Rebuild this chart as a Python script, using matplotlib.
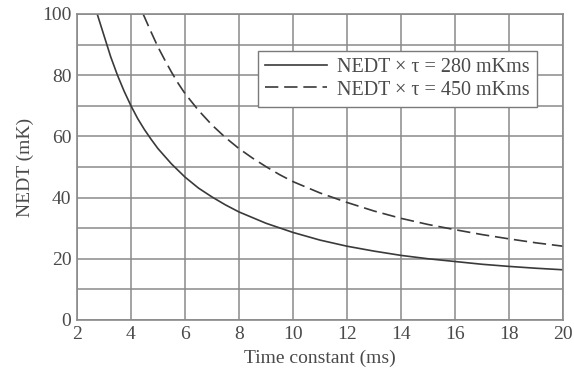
import matplotlib
matplotlib.use("Agg")
import matplotlib.pyplot as plt

tau_280 = [2.75, 3, 3.25, 3.5, 3.75, 4, 4.25, 4.5, 4.75, 5, 5.5, 6, 6.5, 7, 7.5, 8, 9, 10, 11, 12, 13, 14, 15, 16, 17, 18, 19, 20]
nedt_280 = [100, 93, 86, 80, 74.7, 70, 65.8, 62.2, 59, 56, 51, 46.7, 43.1, 40.2, 37.6, 35.3, 31.6, 28.6, 26.1, 24.1, 22.5, 21.1, 20, 19.1, 18.2, 17.5, 16.9, 16.4]

tau_450 = [4.45, 4.75, 5, 5.25, 5.5, 5.75, 6, 6.5, 7, 7.5, 8, 8.5, 9, 9.5, 10, 11, 12, 13, 14, 15, 16, 17, 18, 19, 20]
nedt_450 = [100, 94, 89.2, 85, 81, 77.3, 74, 68.5, 63.7, 59.6, 56, 52.9, 50.1, 47.5, 45.2, 41.5, 38.4, 35.6, 33.2, 31.2, 29.5, 27.9, 26.5, 25.2, 24.1]

labels = ["NEDT \u00d7 \u03c4 = 280 mKms", "NEDT \u00d7 \u03c4 = 450 mKms"]
xticks = [2, 4, 6, 8, 10, 12, 14, 16, 18, 20]
yticks = [0, 20, 40, 60, 80, 100]

plt.rcParams['font.family'] = ['Liberation Serif', 'DejaVu Serif']
txt = '#4a4a4a'

fig = plt.figure(figsize=(5.74, 3.76), dpi=100)
ax = fig.add_axes([0.134, 0.149, 0.847, 0.814])

ax.plot(tau_280, nedt_280, color='#3a3a3a', lw=1.2, ls='-', label=labels[0])
ax.plot(tau_450, nedt_450, color='#3a3a3a', lw=1.2, ls=(0, (8, 3.5)), label=labels[1])

ax.set_xlim(2, 20)
ax.set_ylim(0, 100)
ax.set_xticks(xticks)
ax.set_yticks(yticks)
ax.set_yticks(range(10, 100, 20), minor=True)
ax.grid(True, which='both', color='#8a8a8a', lw=1.1)
ax.tick_params(which='both', length=0, labelsize=14, colors=txt, pad=4)
for s in ax.spines.values():
    s.set_color('#8a8a8a')
    s.set_linewidth(1.2)
ax.set_axisbelow(True)

ax.set_xlabel("Time constant (ms)", fontsize=14, color=txt, labelpad=5)
ax.set_ylabel("NEDT (mK)", fontsize=14, color=txt, labelpad=6)

leg = ax.legend(loc='upper right', bbox_to_anchor=(0.946, 0.878), fontsize=14.5,
                handlelength=3.1, frameon=True, fancybox=False, framealpha=1,
                borderpad=0.35, labelspacing=0.15, handletextpad=0.5, borderaxespad=0)
leg.get_frame().set_edgecolor('#7a7a7a')
leg.get_frame().set_linewidth(1.0)
for t in leg.get_texts():
    t.set_color(txt)

fig.savefig("out.png", dpi=100)
